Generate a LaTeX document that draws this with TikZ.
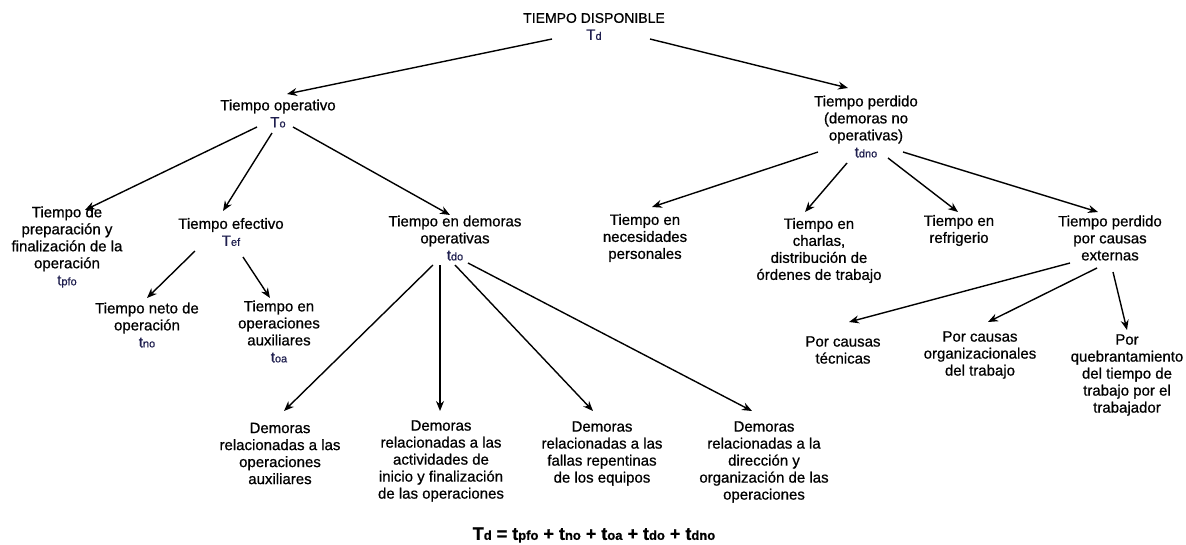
\documentclass[tikz,border=0pt]{standalone}
\usepackage{fontspec}
\setmainfont{Liberation Sans}[FakeBold=0.7]
\usetikzlibrary{arrows.meta}
\definecolor{symc}{HTML}{1F1F4F}
\newcommand\sy[2]{{\color{symc}#1{\fontsize{11}{10}\selectfont #2}}}
\newcommand\conn[4]{\draw[arr] ([shift={(#2)}]#1.center) -- ([shift={(#4)}]#3.center);}
\begin{document}
\begin{tikzpicture}[x=1pt,y=-1pt,
  lbl/.style={inner sep=0pt,align=center,font=\fontsize{15}{17}\selectfont},
  arr/.style={line width=1.4pt,-{Stealth[length=10pt,width=8pt]}}]
\useasboundingbox (0,0) rectangle (1186,544);
% nodes
\node[lbl] (TD) at (594,26.5) {{\fontsize{14}{17}\selectfont TIEMPO DISPONIBLE}\\\sy{T}{d}};
\node[lbl] (TO) at (278,113.5) {Tiempo operativo\\\sy{T}{o}};
\node[lbl] (TP) at (866,126.5) {Tiempo perdido\\(demoras no\\operativas)\\\sy{t}{dno}};
\node[lbl] (TPFO) at (67,247) {Tiempo de\\preparación y\\finalización de la\\operación\\\sy{t}{pfo}};
\node[lbl] (TEF) at (231,232) {Tiempo efectivo\\\sy{T}{ef}};
\node[lbl] (TDO) at (455,238) {Tiempo en demoras\\operativas\\\sy{t}{do}};
\node[lbl] (TNO) at (147,325) {Tiempo neto de\\operación\\\sy{t}{no}};
\node[lbl] (TOA) at (279,331.5) {Tiempo en\\operaciones\\auxiliares\\\sy{t}{oa}};
\node[lbl] (NEC) at (645,238) {Tiempo en\\necesidades\\personales};
\node[lbl] (CHA) at (819,250.5) {Tiempo en\\charlas,\\distribución de\\órdenes de trabajo};
\node[lbl] (REF) at (959,230.5) {Tiempo en\\refrigerio};
\node[lbl] (EXT) at (1110,238) {Tiempo perdido\\por causas\\externas};
\node[lbl] (TEC) at (843,350) {Por causas\\técnicas};
\node[lbl] (ORG) at (980,355) {Por causas\\organizacionales\\del trabajo};
\node[lbl] (QUE) at (1127,375) {Por\\quebrantamiento\\del tiempo de\\trabajo por el\\trabajador};
\node[lbl] (DAUX) at (280,453.5) {Demoras\\relacionadas a las\\operaciones\\auxiliares};
\node[lbl] (DINI) at (441,461) {Demoras\\relacionadas a las\\actividades de\\inicio y finalización\\de las operaciones};
\node[lbl] (DFAL) at (602,453.5) {Demoras\\relacionadas a las\\fallas repentinas\\de los equipos};
\node[lbl] (DDIR) at (764,462) {Demoras\\relacionadas a la\\dirección y\\organización de las\\operaciones};
\node[inner sep=0pt,font=\fontsize{18}{20}\selectfont\bfseries] (FORM) at (594,535)
  {T{\fontsize{13}{13}\selectfont d} = t{\fontsize{13}{13}\selectfont pfo} + t{\fontsize{13}{13}\selectfont no} + t{\fontsize{13}{13}\selectfont oa} + t{\fontsize{13}{13}\selectfont do} + t{\fontsize{13}{13}\selectfont dno}};
% connectors
\conn{TD}{-42,12.5}{TO}{9,-19.5}
\conn{TD}{56,12.5}{TP}{-18,-38.5}
\conn{TO}{-21,13.5}{TPFO}{18,-37}
\conn{TO}{-6,19.5}{TEF}{-8,-21}
\conn{TO}{15,13.5}{TDO}{-5,-23}
\conn{TEF}{-36,19}{TNO}{0,-27}
\conn{TEF}{12,25}{TOA}{-9,-33.5}
\conn{TDO}{-22,27}{DAUX}{4,-42.5}
\conn{TDO}{-15,27}{DINI}{-1,-50}
\conn{TDO}{0,27}{DFAL}{-9,-42.5}
\conn{TDO}{13,25}{DDIR}{-12,-51}
\conn{TP}{-48,25.5}{NEC}{7,-31}
\conn{TP}{-19,36.5}{CHA}{-14,-38.5}
\conn{TP}{22,31.5}{REF}{-1,-18.5}
\conn{TP}{37,25.5}{EXT}{-12,-26}
\conn{EXT}{-40,25}{TEC}{6,-28}
\conn{EXT}{-13,30}{ORG}{8,-33}
\conn{EXT}{3,34}{QUE}{0,-45}
\end{tikzpicture}
\end{document}
